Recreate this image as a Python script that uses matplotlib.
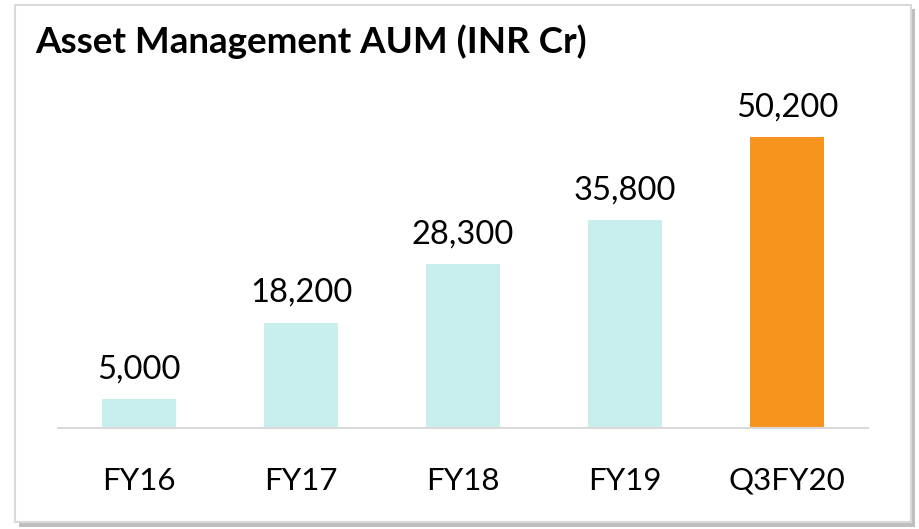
import matplotlib.pyplot as plt
from matplotlib.patches import Rectangle

# chart data
categories = ['FY16', 'FY17', 'FY18', 'FY19', 'Q3FY20']
aum = [5000, 18200, 28300, 35800, 50200]
labels = ['5,000', '18,200', '28,300', '35,800', '50,200']
colors = ['#C9EFEC', '#C9EFEC', '#C9EFEC', '#C9EFEC', '#F7941D']

W, H = 919, 529
fig = plt.figure(figsize=(W / 100, H / 100), dpi=100)
plt.rcParams['font.family'] = ['Lato', 'DejaVu Sans']

# outer frame with a soft shadow
fig.patches.append(Rectangle((19 / W, 1 - 527 / H), 896 / W, 518 / H, transform=fig.transFigure,
                             facecolor='#BFBFBF', edgecolor='none', zorder=0))
fig.patches.append(Rectangle((15 / W, 1 - 522 / H), 896 / W, 517 / H, transform=fig.transFigure,
                             facecolor='white', edgecolor='#D9D9D9', linewidth=1.5, zorder=1))

ax = fig.add_axes([58 / W, 1 - 428 / H, 810 / W, 347.8 / H])
ax.set_zorder(2)
ax.patch.set_visible(False)

x = range(len(categories))
ax.bar(x, aum, width=0.46, color=colors)
for i, v in enumerate(aum):
    ax.text(i, v + 2500, labels[i], ha='center', va='bottom', fontsize=23.5)

ax.set_xlim(-0.5, 4.5)
ax.set_ylim(0, 60000)
ax.set_xticks(list(x))
ax.set_xticklabels(categories, fontsize=22.5)
ax.tick_params(axis='x', length=0, pad=28)
ax.set_yticks([])
for s in ['top', 'right', 'left']:
    ax.spines[s].set_visible(False)
ax.spines['bottom'].set_color('#D9D9D9')
ax.spines['bottom'].set_linewidth(1.5)

fig.text(35 / W, 1 - 42 / H, 'Asset Management AUM (INR Cr)', fontsize=26.5, fontweight='bold',
         va='center', ha='left', zorder=3)

fig.savefig('out.png', dpi=100)
